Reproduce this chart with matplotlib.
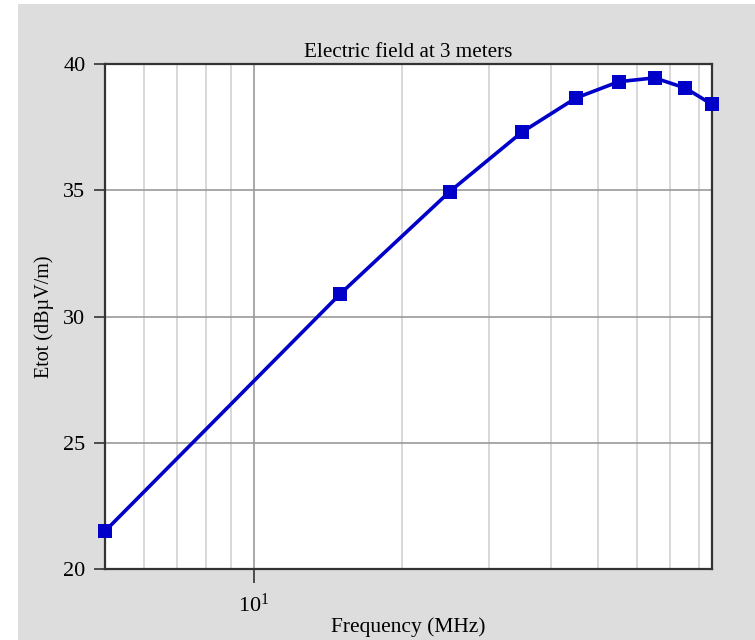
import matplotlib
matplotlib.use('Agg')
import matplotlib.pyplot as plt
from matplotlib.patches import Rectangle
from matplotlib.ticker import FixedLocator, NullFormatter, LogLocator

plt.rcParams['font.family'] = 'Liberation Serif'
plt.rcParams['mathtext.fontset'] = 'custom'
plt.rcParams['mathtext.rm'] = 'Liberation Serif'
plt.rcParams['mathtext.it'] = 'Liberation Serif:italic'

# Electric field vs frequency
freq_mhz = [5, 15, 25, 35, 45, 55, 65, 75, 85]
etot_db = [21.5, 30.9, 34.95, 37.3, 38.65, 39.3, 39.45, 39.05, 38.4]
y_ticks = [20, 25, 30, 35, 40]

fig = plt.figure(figsize=(7.55, 6.4), dpi=100, facecolor='white')
# grey panel behind the plot (white strip on left/top edges)
fig.patches.append(Rectangle((18 / 755, 0), 1 - 18 / 755, 636 / 640,
                             transform=fig.transFigure, facecolor='#dddddd',
                             edgecolor='none', zorder=-10))

ax = fig.add_axes([105 / 755, 71 / 640, 607 / 755, 505 / 640])
ax.set_facecolor('white')

ax.plot(freq_mhz, etot_db, color='#0000c8', linewidth=2.6, marker='s',
        markersize=10.5, markeredgewidth=0, zorder=5, clip_on=False)

ax.set_xscale('log')
ax.set_xlim(5, 85)
ax.set_ylim(20, 40)

ax.xaxis.set_major_locator(FixedLocator([10]))
ax.xaxis.set_minor_locator(LogLocator(base=10, subs=range(2, 10)))
ax.xaxis.set_minor_formatter(NullFormatter())
ax.set_yticks(y_ticks)

ax.grid(which='major', color='#999999', linewidth=1.2)
ax.grid(which='minor', axis='x', color='#d2d2d2', linewidth=1.2)
ax.set_axisbelow(True)

ax.tick_params(axis='both', which='major', direction='out', labelsize=16,
               color='#333333', width=1.2)
ax.tick_params(axis='y', which='major', length=8, pad=6)
ax.tick_params(axis='x', which='major', length=10, pad=8)
ax.tick_params(axis='x', which='minor', length=0)

for s in ax.spines.values():
    s.set_color('#333333')
    s.set_linewidth(1.6)

ax.set_title('Electric field at 3 meters', fontsize=15.2, pad=5)
ax.set_xlabel('Frequency (MHz)', fontsize=15.5, labelpad=0)
ax.set_ylabel('Etot (dBµV/m)', fontsize=14.5, labelpad=7)

fig.savefig('out.png', dpi=100, facecolor=fig.get_facecolor())
